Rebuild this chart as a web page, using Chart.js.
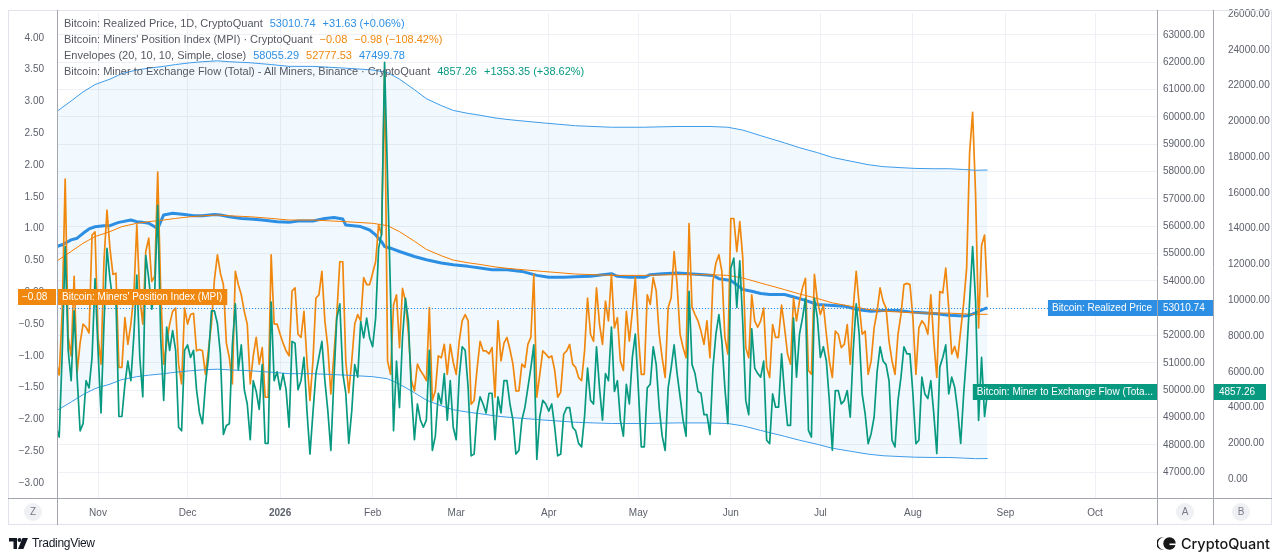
<!DOCTYPE html>
<html>
<head>
<meta charset="utf-8">
<script src="https://cdn.jsdelivr.net/npm/chart.js@4.4.1/dist/chart.umd.min.js"></script>
<style>
html, body { margin: 0; padding: 0; background: #fff; }
#wrap { position: relative; width: 1280px; height: 558px; overflow: hidden; font-family: 'Liberation Sans', Arial, sans-serif; }
#chart { position: absolute; left: 0; top: 0; }
#legend { position: absolute; left: 64px; top: 15px; font-size: 11px; line-height: 16px; color: #555861; white-space: nowrap; }
#legend .v { margin-left: 7px; }
#legend .b { color: #2d8fe3; }
#legend .o { color: #f0880f; }
#legend .g { color: #089981; }
#tv { position: absolute; left: 9px; top: 535px; height: 16px; display: flex; align-items: center; font-size: 12px; color: #131722; letter-spacing: -0.3px; }
#tv svg { margin-right: 4px; }
#cq { position: absolute; right: 10px; top: 533px; height: 20px; display: flex; align-items: center; font-family: Inter, 'Liberation Sans', sans-serif; font-size: 14.5px; color: #161616; font-weight: 500; }
#cq svg { margin-right: 5px; }
</style>
</head>
<body>
<div id="wrap">
  <canvas id="chart" width="1280" height="558"></canvas>
  <div id="legend">
    <div>Bitcoin: Realized Price, 1D, CryptoQuant<span class="v b">53010.74</span><span class="v b">+31.63 (+0.06%)</span></div>
    <div>Bitcoin: Miners' Position Index (MPI) · CryptoQuant<span class="v o">−0.08</span><span class="v o">−0.98 (−108.42%)</span></div>
    <div>Envelopes (20, 10, 10, Simple, close)<span class="v b">58055.29</span><span class="v o">52777.53</span><span class="v b">47499.78</span></div>
    <div>Bitcoin: Miner to Exchange Flow (Total) - All Miners, Binance · CryptoQuant<span class="v g">4857.26</span><span class="v g">+1353.35 (+38.62%)</span></div>
  </div>
  <div id="tv">
    <svg width="19" height="11" viewBox="0 0 19 11"><path d="M0 0h8v11H4.5V3.5H0z" fill="#131722"/><circle cx="10.5" cy="2" r="2" fill="#131722"/><path d="M13.5 0H19l-4.6 11H9z" fill="#131722"/></svg>
    <span>TradingView</span>
  </div>
  <div id="cq">
    <svg width="19" height="13" viewBox="0 0 19 13"><path d="M5.5 0.3A6.2 6.2 0 0 0 5.5 12.7L7.2 12.7A6.2 6.2 0 0 1 7.2 0.3Z" fill="#161616"/><circle cx="12.5" cy="6.5" r="6.2" fill="#161616"/><path d="M12.5 6.5h6.5v1.6h-6.5z" fill="#fff"/></svg>
    <span>CryptoQuant</span>
  </div>
</div>
<script>
// day index 0 = 1 Nov 2025, one value per day starting at day -14
const firstDay = -14;

// Bitcoin: Miners' Position Index (MPI), daily
const mpi = [
  -1.10, -1.30, -0.30, 1.78, -0.70, -1.00, 0.25, -1.26, -0.80, -0.50,
  -0.55, -0.64, 0.90, 0.95, -0.70, -1.13, 0.50, 1.29, 0.69, 0.28,
  0.30, -1.18, -1.18, -0.40, -0.82, -0.50, -0.04, 1.06, -0.09, -0.50,
  0.64, 0.85, 0.17, 0.25, 1.89, 0.02, -1.13, -0.80, -0.50, -0.30,
  -0.25, -1.13, -1.44, -0.25, -0.50, -0.35, -0.33, -0.92, -0.90, -0.92,
  -1.29, -0.90, -0.50, 0.20, 0.59, 0.30, 0.12, -0.80, -1.03, -1.44,
  0.33, 0.12, -0.04, -0.30, -0.50, -1.44, -1.00, -0.71, -1.13, -0.87,
  -1.65, -1.65, 0.59, -0.50, -0.50, -0.66, -0.80, -0.92, -1.00, 0.02,
  0.07, -0.66, -0.71, -0.30, -1.08, -1.70, -1.08, -0.09, -0.04, 0.33,
  -0.45, -0.87, -1.60, -1.00, -0.35, 0.48, 0.48, -1.08, -1.58, -1.08,
  -0.50, -0.35, -0.45, 0.23, 0.12, 0.12, 0.30, 0.48, 1.06, 0.90,
  3.45, -1.08, -1.29, -0.20, -0.04, -0.87, 0.06, -0.14, -0.66, -1.39,
  -1.55, -1.13, -1.23, -1.30, -1.39, -0.24, -1.70, -1.55, -1.00, -1.03,
  -0.82, -1.29, -0.82, -1.10, -1.29, -0.77, -0.45, -0.35, -0.45, -1.76,
  -1.70, -1.20, -0.77, -0.92, -0.92, -0.97, -0.87, -1.65, -0.45, -1.08,
  -0.80, -0.71, -0.90, -1.13, -1.55, -1.55, -1.13, -1.18, -0.82, -0.71,
  0.28, -1.65, -1.29, -0.92, -0.97, -1.03, -1.00, -1.23, -1.65, -1.57,
  -0.97, -0.92, -0.82, -1.13, -1.18, -1.34, -1.39, -0.92, -0.09, -0.66,
  -0.77, 0.07, -0.50, -0.82, -0.14, -0.45, 0.28, -0.56, -0.40, -1.08,
  -1.23, -0.30, -0.77, -0.30, 0.23, -0.66, -1.29, -1.29, -0.04, -0.19,
  0.23, 0.02, -0.66, -1.03, -1.34, -0.24, -0.09, 0.64, 0.12, -0.66,
  -0.87, -1.03, 1.08, -0.24, -0.35, -0.45, -0.61, -0.82, -0.45, -1.03,
  0.17, 0.46, 0.59, 0.33, -0.71, -0.97, 1.16, 1.16, 0.64, 1.11,
  0.54, -0.87, -1.03, -0.04, -0.45, -0.55, -0.45, -0.25, -1.18, -1.34,
  -0.51, -0.71, -0.71, -0.20, -0.56, -0.97, -1.13, -0.09, -0.45, -0.14,
  0.07, 0.22, -1.23, -1.29, 0.28, -0.14, -0.35, -0.20, -0.66, -1.08,
  -1.34, -0.61, -0.66, -0.87, -0.82, -0.51, -1.13, -0.25, 0.33, -0.20,
  -0.66, -0.61, -1.29, -1.08, -0.56, -0.30, 0.07, -0.14, -0.25, -0.77,
  -1.08, -1.29, -0.66, -0.35, 0.12, 0.14, 0.12, -0.40, -1.29, -0.56,
  -0.45, -0.51, -0.66, -0.04, -0.77, -1.34, 0.01, -0.01, 0.38, -0.25,
  -0.97, -0.85, -1.03, -0.60, -0.17, 0.38, 2.20, 2.83, 1.53, -0.56,
  0.74, 0.90, -0.08
];

// Bitcoin: Miner to Exchange Flow (Total), daily
const flow = [
  2900, 2350, 7000, 13000, 7200, 5500, 9400, 5700, 2700, 3100,
  5500, 5100, 6800, 11200, 7200, 3700, 8700, 12900, 11200, 9900,
  10100, 3500, 3500, 5300, 6600, 5500, 8000, 11400, 6800, 4600,
  12500, 11200, 9500, 10500, 15300, 7900, 4400, 8500, 7200, 8300,
  7200, 2900, 2700, 7200, 7500, 6800, 7200, 5000, 3700, 3100,
  5300, 6800, 9400, 9400, 8700, 7000, 2500, 3000, 3100, 7500,
  9800, 6100, 7500, 5000, 4200, 2200, 5500, 4900, 3900, 6400,
  2000, 2000, 9900, 5500, 6000, 5000, 5900, 5000, 2900, 7700,
  7600, 5000, 5500, 6800, 3800, 1400, 3700, 5900, 6800, 7700,
  5500, 3800, 1600, 5500, 9000, 9800, 5900, 4800, 2000, 3800,
  6400, 5700, 8800, 7900, 9000, 7900, 7400, 9000, 12900, 13700,
  23300, 16800, 10300, 2700, 6600, 4000, 7900, 10100, 8800, 4800,
  2200, 4200, 3300, 2900, 3300, 7200, 1600, 2400, 4800, 4200,
  5900, 3300, 5500, 2900, 2200, 5700, 7400, 7200, 5100, 1300,
  1400, 3700, 4600, 4200, 3700, 4800, 4800, 2200, 4600, 3700,
  5500, 5500, 4200, 3300, 1400, 1600, 3300, 4000, 5100, 6200,
  7500, 1100, 3500, 4400, 4200, 3800, 4200, 2900, 1300, 1400,
  3600, 4000, 4000, 2900, 2700, 2000, 1800, 3500, 6200, 4400,
  4200, 7400, 5100, 3300, 5900, 5500, 8500, 4900, 5500, 3300,
  2400, 5300, 4200, 6800, 8100, 5100, 1800, 1800, 5100, 5300,
  7400, 6400, 4000, 2400, 1600, 5100, 6200, 7500, 5900, 4600,
  3300, 2400, 10500, 6400, 5900, 4900, 4800, 3600, 3600, 2500,
  6200, 8100, 9200, 7700, 5100, 3100, 11800, 12350, 9600, 12200,
  8700, 4400, 3600, 8400, 6200, 5900, 5700, 6600, 2170, 1980,
  4760, 4020, 4020, 7000, 4760, 3000, 3000, 9000, 5700, 8100,
  9000, 10100, 2720, 2350, 10100, 9000, 6800, 7400, 6600, 4390,
  1610, 4950, 4950, 4200, 4390, 4950, 3460, 7200, 9800, 8100,
  4760, 3650, 1980, 2540, 3460, 6000, 7400, 6600, 6400, 5500,
  2170, 1800, 4390, 5700, 7400, 7000, 7000, 4760, 1980, 2170,
  5700, 4760, 4500, 5500, 3650, 1430, 6260, 6800, 7500, 4760,
  5700, 5130, 3830, 2000, 4760, 7000, 9950, 13000, 9950, 3280,
  6800, 3504, 4857.26
];

// Bitcoin: Realized Price, read at these days
const rpDays = [-14, -12, -9, -7, -5, -3, -1, 2, 4, 6, 7, 11, 13, 15, 17, 19, 20, 21, 22, 25,
  29, 32, 35, 39, 41, 44, 48, 51, 55, 60, 64, 67, 72, 76, 79, 82, 83, 88, 91, 93,
  95, 96, 98, 101, 106, 110, 115, 119, 124, 128, 132, 137, 142, 147, 151, 156, 160, 165, 169, 172,
  174, 178, 183, 185, 189, 194, 198, 203, 206, 208, 212, 214, 216, 219, 222, 225, 230, 234, 237, 241,
  245, 250, 254, 259, 263, 268, 272, 276, 281, 285, 290, 292, 294, 297, 298];
const rpVals = [55250, 55320, 55500, 55560, 55740, 55900, 55980, 56020, 56020, 56105, 56140, 56225, 56165, 56140, 56105, 55980, 55900, 56165, 56410, 56470,
  56430, 56380, 56380, 56430, 56410, 56345, 56285, 56265, 56225, 56165, 56140, 56190, 56190, 56285, 56320, 56260, 56045, 55985, 55860, 55680,
  55435, 55255, 55195, 55075, 54890, 54770, 54650, 54590, 54530, 54470, 54410, 54410, 54345, 54200, 54130, 54130, 54150, 54165, 54225, 54260,
  54165, 54130, 54130, 54225, 54260, 54285, 54260, 54225, 54200, 54080, 54010, 53860, 53680, 53620, 53540, 53500, 53500, 53380, 53285, 53135,
  53110, 53075, 52955, 52890, 52915, 52915, 52865, 52830, 52795, 52745, 52710, 52745, 52830, 52979.11, 53010.74];

// Envelopes (20, 10, 10): the 20-day SMA basis, read at these days
const smaDays = [-14, -9, -5, -1, 4, 8, 13, 17, 22, 26, 31, 35, 40, 44, 51, 58, 64, 72, 83, 92,
  97, 101, 106, 110, 115, 119, 124, 128, 133, 137, 141, 149, 160, 172, 183, 194, 205, 211, 216, 218,
  222, 224, 230, 235, 241, 246, 252, 258, 263, 269, 274, 280, 285, 290, 294, 298];
const smaVals = [54710, 55075, 55375, 55620, 55800, 55985, 56105, 56165, 56225, 56285, 56345, 56380, 56410, 56380, 56345, 56285, 56225, 56225, 56165, 56105,
  56020, 55800, 55450, 55150, 54920, 54760, 54660, 54600, 54510, 54460, 54420, 54345, 54250, 54200, 54200, 54225, 54225, 54200, 54105, 54045,
  53920, 53860, 53680, 53520, 53355, 53195, 53075, 52955, 52890, 52855, 52830, 52820, 52820, 52795, 52770, 52777.53];
const envPct = 0.10;

// axes
const monthDays = [0, 30, 61, 92, 120, 151, 181, 212, 242, 273, 304, 334];
const monthLabels = ['Nov', 'Dec', '2026', 'Feb', 'Mar', 'Apr', 'May', 'Jun', 'Jul', 'Aug', 'Sep', 'Oct'];
const priceTicks = [47000, 48000, 49000, 50000, 51000, 52000, 53000, 54000, 55000,
  56000, 57000, 58000, 59000, 60000, 61000, 62000, 63000];
const flowTicks = [0, 2000, 4000, 6000, 8000, 10000, 12000, 14000, 16000, 18000,
  20000, 22000, 24000, 26000];

const lastRp = rpVals[rpVals.length - 1];
const lastMpi = mpi[mpi.length - 1];
const lastFlow = flow[flow.length - 1];

const daily = arr => arr.map((v, i) => ({ x: firstDay + i, y: v }));
const paired = (xs, ys) => xs.map((x, i) => ({ x: x, y: ys[i] }));

const upper = smaDays.map((d, i) => ({ x: d, y: smaVals[i] * (1 + envPct) }));
const lower = smaDays.map((d, i) => ({ x: d, y: smaVals[i] * (1 - envPct) }));

const FONT = "'Liberation Sans', Arial, sans-serif";
Chart.defaults.font.family = FONT;
Chart.defaults.color = '#5d606b';

function fixWidth(w) { return s => { s.width = w; }; }
function setTicks(list) { return s => { s.ticks = list.map(v => ({ value: v })); }; }

function tag(ctx, x1, x2, yc, bg) {
  ctx.fillStyle = bg;
  ctx.fillRect(x1, Math.round(yc) - 8, x2 - x1, 16);
}

const decor = {
  id: 'decor',
  afterDatasetsDraw(chart) {
    const { ctx, chartArea: a, scales } = chart;
    const y = Math.round(scales.yPrice.getPixelForValue(lastRp)) + 0.5;
    ctx.save();
    ctx.strokeStyle = '#2d8fe3';
    ctx.lineWidth = 1;
    ctx.setLineDash([1, 2]);
    ctx.beginPath();
    ctx.moveTo(a.left, y);
    ctx.lineTo(a.right, y);
    ctx.stroke();
    ctx.restore();
  },
  afterDraw(chart) {
    const { ctx, chartArea: a, scales } = chart;
    ctx.save();
    // pane frame
    ctx.strokeStyle = '#e0e3eb';
    ctx.lineWidth = 1;
    ctx.strokeRect(8.5, 10.5, 1263, 514);
    ctx.strokeStyle = '#a3a6af';
    ctx.beginPath();
    [a.left, a.right, a.right + 56].forEach(x => {
      ctx.moveTo(Math.round(x) + 0.5, 10);
      ctx.lineTo(Math.round(x) + 0.5, 525);
    });
    ctx.moveTo(8, Math.round(a.bottom) + 0.5);
    ctx.lineTo(1272, Math.round(a.bottom) + 0.5);
    ctx.stroke();

    // scale buttons
    ctx.font = '10px ' + FONT;
    ctx.textAlign = 'center';
    ctx.textBaseline = 'middle';
    [[33, 'Z'], [1185, 'A'], [1241, 'B']].forEach(([x, t]) => {
      ctx.fillStyle = '#eef0f4';
      ctx.beginPath();
      ctx.arc(x, 512, 9, 0, Math.PI * 2);
      ctx.fill();
      ctx.fillStyle = '#787b86';
      ctx.fillText(t, x, 512.5);
    });

    // last value tags
    ctx.textAlign = 'left';
    ctx.font = '10px ' + FONT;
    const fmt = v => (v < 0 ? '\u2212' : '') + Math.abs(v).toFixed(2);

    const yM = scales.yMpi.getPixelForValue(lastMpi);
    const mLabel = "Bitcoin: Miners' Position Index (MPI)";
    const mW = ctx.measureText(mLabel).width;
    tag(ctx, 18, a.left - 1, yM, '#f0880f');
    tag(ctx, a.left + 1, a.left + 5 + mW + 5, yM, '#f0880f');
    ctx.fillStyle = '#fff';
    ctx.fillText(fmt(lastMpi), 22, Math.round(yM) + 0.5);
    ctx.fillText(mLabel, a.left + 5, Math.round(yM) + 0.5);

    const yR = scales.yPrice.getPixelForValue(lastRp);
    const rLabel = 'Bitcoin: Realized Price';
    const rW = ctx.measureText(rLabel).width;
    tag(ctx, a.right - rW - 9, a.right, yR, '#2d8fe3');
    tag(ctx, a.right + 1, a.right + 56, yR, '#2d8fe3');
    ctx.fillStyle = '#fff';
    ctx.fillText(rLabel, a.right - rW - 5, Math.round(yR) + 0.5);
    ctx.fillText(lastRp.toFixed(2), a.right + 6, Math.round(yR) + 0.5);

    const yF = scales.yFlow.getPixelForValue(lastFlow);
    const fLabel = 'Bitcoin: Miner to Exchange Flow (Tota...';
    const fW = ctx.measureText(fLabel).width;
    tag(ctx, a.right - fW - 8, a.right, yF, '#089981');
    tag(ctx, a.right + 57, a.right + 109, yF, '#089981');
    ctx.fillStyle = '#fff';
    ctx.fillText(fLabel, a.right - fW - 4, Math.round(yF) + 0.5);
    ctx.fillText(lastFlow.toFixed(2), a.right + 62, Math.round(yF) + 0.5);
    ctx.restore();
  }
};

new Chart(document.getElementById('chart'), {
  type: 'line',
  data: {
    datasets: [{
      label: 'Envelope upper',
      data: upper,
      yAxisID: 'yPrice',
      borderColor: '#3d9be9',
      borderWidth: 1,
      backgroundColor: 'rgba(33, 150, 243, 0.06)',
      fill: '+1',
      order: 2
    }, {
      label: 'Envelope lower',
      data: lower,
      yAxisID: 'yPrice',
      borderColor: '#3d9be9',
      borderWidth: 1,
      fill: false,
      order: 2
    }, {
      label: 'Envelope basis',
      data: paired(smaDays, smaVals),
      yAxisID: 'yPrice',
      borderColor: '#f57c00',
      borderWidth: 1,
      fill: false,
      order: 2
    }, {
      label: 'Bitcoin: Realized Price',
      data: paired(rpDays, rpVals),
      yAxisID: 'yPrice',
      borderColor: '#2d8fe3',
      borderWidth: 3,
      fill: false,
      order: 4
    }, {
      label: "Bitcoin: Miners' Position Index (MPI)",
      data: daily(mpi),
      yAxisID: 'yMpi',
      borderColor: '#f0880f',
      borderWidth: 1.7,
      fill: false,
      order: 3
    }, {
      label: 'Bitcoin: Miner to Exchange Flow (Total)',
      data: daily(flow),
      yAxisID: 'yFlow',
      borderColor: '#089981',
      borderWidth: 1.7,
      fill: false,
      order: 1
    }]
  },
  options: {
    responsive: false,
    animation: false,
    events: [],
    layout: { padding: { left: 8, right: 8, top: 10, bottom: 33 } },
    elements: { point: { radius: 0 }, line: { tension: 0, borderJoinStyle: 'round' } },
    plugins: {
      legend: { display: false },
      tooltip: { enabled: false },
      filler: { drawTime: 'beforeDatasetsDraw' }
    },
    scales: {
      x: {
        type: 'linear',
        min: -13.74,
        max: 354.77,
        grid: { color: '#eef0f5', drawTicks: false },
        border: { display: false },
        afterBuildTicks: setTicks(monthDays),
        afterFit: s => { s.height = 27; },
        ticks: {
          autoSkip: false,
          maxRotation: 0,
          padding: 9,
          color: '#5d606b',
          font: c => ({ size: 10, weight: c.tick && c.tick.value === 61 ? 'bold' : 'normal' }),
          callback: v => monthLabels[monthDays.indexOf(v)]
        }
      },
      yMpi: {
        position: 'left',
        min: -3.234,
        max: 4.39,
        grid: { display: false },
        border: { display: false },
        afterFit: fixWidth(49),
        ticks: {
          stepSize: 0.5,
          includeBounds: false,
          autoSkip: false,
          padding: 5,
          font: { size: 10 },
          callback: v => (v < 0 ? '\u2212' : '') + Math.abs(v).toFixed(2)
        }
      },
      yPrice: {
        position: 'right',
        weight: 0,
        min: 46055,
        max: 63800,
        grid: { color: '#eef0f5', drawTicks: false },
        border: { display: false },
        afterBuildTicks: setTicks(priceTicks),
        afterFit: fixWidth(56),
        ticks: {
          autoSkip: false,
          padding: 6,
          font: { size: 10 },
          callback: v => v.toFixed(2)
        }
      },
      yFlow: {
        position: 'right',
        weight: 1,
        min: -1056,
        max: 26056,
        grid: { display: false },
        border: { display: false },
        afterBuildTicks: setTicks(flowTicks),
        afterFit: fixWidth(59),
        ticks: {
          autoSkip: false,
          padding: 7,
          font: { size: 10 },
          callback: v => v.toFixed(2)
        }
      }
    }
  },
  plugins: [decor]
});
</script>
</body>
</html>
